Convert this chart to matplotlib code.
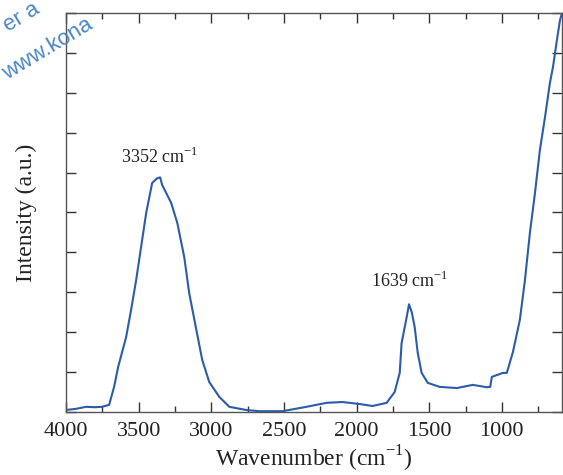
import numpy as np
import matplotlib.pyplot as plt
from matplotlib.ticker import MultipleLocator

# Spectre (nombre d'onde en cm-1, intensité en u.a.)
wavenumber = [4000, 3930, 3862, 3800, 3752, 3703, 3669, 3641, 3586, 3552,
              3517, 3483, 3448, 3407, 3372, 3352, 3338, 3276, 3234, 3186,
              3152, 3103, 3062, 3014, 2945, 2876, 2759, 2669, 2510, 2345,
              2207, 2097, 1979, 1890, 1793, 1738, 1703, 1690, 1655, 1639,
              1620, 1600, 1579, 1552, 1510, 1428, 1310, 1200, 1103, 1080,
              1069, 993, 966, 924, 876, 841, 807, 772, 738, 703,
              669, 648, 621, 600, 586]
intensity = [0.05, 0.08, 0.13, 0.12, 0.13, 0.18, 0.63, 1.13, 1.88, 2.56,
             3.31, 4.14, 4.99, 5.74, 5.86, 5.88, 5.69, 5.24, 4.74, 3.88,
             2.98, 2.06, 1.30, 0.75, 0.38, 0.13, 0.05, 0.02, 0.02, 0.13,
             0.23, 0.25, 0.20, 0.15, 0.23, 0.50, 0.98, 1.73, 2.38, 2.70,
             2.50, 2.13, 1.48, 0.98, 0.73, 0.63, 0.60, 0.68, 0.62, 0.63,
             0.88, 0.98, 0.98, 1.50, 2.31, 3.31, 4.49, 5.49, 6.57, 7.39,
             8.25, 8.65, 9.32, 9.82, 10.0]

peak_pos = [3352, 1634]
peak_y = [6.24, 3.13]
peak_labels = ["3352 cm$^{\\mathregular{-1}}$", "1639 cm$^{\\mathregular{-1}}$"]

plt.rcParams['font.family'] = 'Liberation Serif'

fig = plt.figure(figsize=(5.63, 4.75), dpi=100)
ax = fig.add_axes([66/563, 63/475, 496/563, 399/475])

ax.plot(wavenumber, intensity, color='#2a5caa', lw=1.5)

for x, y, t in zip(peak_pos, peak_y, peak_labels):
    ax.text(x, y, t, ha='center', va='baseline', fontsize=13, color='#222222')

ax.set_xlim(4000, 586)
ax.set_ylim(0, 10)
ax.xaxis.set_major_locator(MultipleLocator(500))
ax.xaxis.set_minor_locator(MultipleLocator(250))
ax.yaxis.set_major_locator(MultipleLocator(1))
ax.set_yticklabels([])
ax.tick_params(which='both', direction='in', top=True, right=True, color='#333333')
ax.tick_params(which='major', length=7, width=1, labelsize=16, pad=7, labelcolor='#222222')
ax.tick_params(which='minor', length=4, width=1)
for s in ax.spines.values():
    s.set_color('#555555')
    s.set_linewidth(1)

ax.set_xlabel("Wavenumber (cm$^{\\mathregular{-1}}$)", fontsize=17, color='#222222', labelpad=2)
ax.set_ylabel("Intensity (a.u.)", fontsize=17, color='#222222', labelpad=14)

# filigrane en haut à gauche
fig.text(8/563, 1 - 32/475, "er a", family='Liberation Sans', fontsize=16,
         color='#4a86c8', rotation=31, rotation_mode='anchor', ha='left', va='baseline', zorder=10)
fig.text(7/563, 1 - 80/475, "www.kona", family='Liberation Sans', fontsize=16,
         color='#4a86c8', rotation=31, rotation_mode='anchor', ha='left', va='baseline', zorder=10)

fig.savefig('out.png', dpi=100)
